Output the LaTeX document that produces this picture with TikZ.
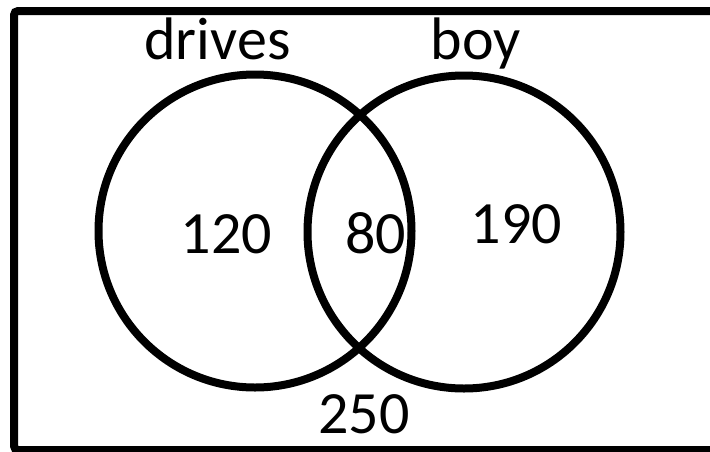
\documentclass[tikz,border=0pt]{standalone}
\usepackage{fontspec}
\setmainfont{Carlito}
\begin{document}
\begin{tikzpicture}[x=1pt,y=-1pt,
  frame/.style={line width=8pt,rounded corners=4pt},
  setring/.style={draw,line width=8pt,circle,minimum size=313pt,inner sep=0pt},
  lbl/.style={inner sep=0pt,anchor=base,font=\fontsize{60}{72}\selectfont}]
  \useasboundingbox (0,0) rectangle (710,451);
  % universe frame
  \draw[frame] (730,11) -- (14,11) -- (14,450) -- (730,450);
  % the two sets
  \node[setring] (drv) at (255,231) {};
  \node[setring] (boy) at (464,232) {};
  % set names
  \node[lbl] (tdrv) at (217.5,59) {drives};
  \node[lbl] (tboy) at (475.5,59) {boy};
  % counts
  \node[lbl] (n120) at (226.5,253) {120};
  \node[lbl] (n80) at (375.5,253) {80};
  \node[lbl] (n190) at (516.5,243) {190};
  \node[lbl] (n250) at (364,433) {250};
\end{tikzpicture}
\end{document}
